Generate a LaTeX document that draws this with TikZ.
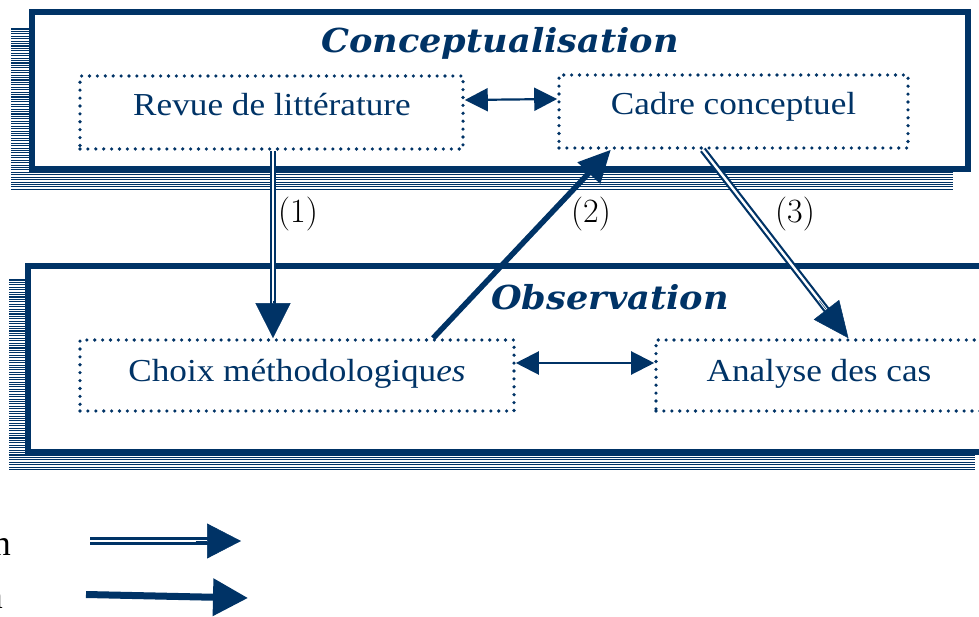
\documentclass[tikz,border=0pt]{standalone}
\usepackage{fontspec}
\newfontfamily\txtfont{Liberation Serif}[FakeStretch=1.1]
\newfontfamily\legfont{Liberation Serif}
\newfontfamily\ttlfont{DejaVu Serif}[FakeStretch=1.065]
\usetikzlibrary{arrows.meta,calc}
\definecolor{navy}{RGB}{0,51,102}
\begin{document}
\begin{tikzpicture}[x=1pt,y=-1pt,
  frame/.style={draw=navy,line width=6pt,fill=white,inner sep=0pt},
  hatch/.style={draw=navy,line width=1.1pt},
  dotbox/.style={draw=navy,line width=3.6pt,line cap=round,dash pattern=on 0pt off 7.9pt,inner sep=0pt},
  txt/.style={text=navy,inner sep=0pt,anchor=base,font=\txtfont\fontsize{32}{36}\selectfont},
  ttl/.style={text=navy,inner sep=0pt,anchor=base,font=\ttlfont\bfseries\itshape\fontsize{33}{38}\selectfont},
  lab/.style={text=black,inner sep=0pt,anchor=base,font=\fontsize{34}{38}\selectfont},
  leg/.style={text=black,inner sep=0pt,anchor=base east,font=\legfont\fontsize{36}{40}\selectfont},
  dbl/.style={draw=navy,double=white,line width=2.2pt,double distance=2.4pt},
  thk/.style={draw=navy,line width=5.5pt},
  tip/.style={draw=navy,line width=0.5pt,-{Triangle[length=#1,width=#1]}},
  biarrow/.style={draw=navy,line width=2.2pt,{Triangle[length=23pt,width=23pt]}-{Triangle[length=23pt,width=23pt]}}
]
\useasboundingbox (0,0) rectangle (979,617);

% shadows (hatching)
\foreach \i in {0,...,66} \draw[hatch] (11,29+\i*2.43) -- (953,29+\i*2.43);
\foreach \i in {0,...,78} \draw[hatch] (9,280+\i*2.43) -- (975,280+\i*2.43);

% frames
\node[frame,minimum width=936pt,minimum height=157pt] (concept) at (500,90.5) {};
\node[frame,minimum width=967pt,minimum height=186pt] (observ) at (511.5,359) {};

% titles
\node[ttl] (t1) at (500,53) {Conceptualisation};
\node[ttl] (t2) at (610,310) {Observation};

% dotted boxes
\node[dotbox,minimum width=383pt,minimum height=73pt] (revue) at (271.5,112.5) {};
\node[dotbox,minimum width=349pt,minimum height=73pt] (cadre) at (733.5,111.5) {};
\node[dotbox,minimum width=434pt,minimum height=71pt] (choix) at (297,375.5) {};
\node[dotbox,minimum width=329pt,minimum height=71pt] (analyse) at (820.5,375.5) {};

\node[txt] (revuet) at (272,116) {Revue de littérature};
\node[txt] (cadret) at (733.5,115) {Cadre conceptuel};
\node[txt] (choixt) at (297,381) {Choix méthodologiqu\textit{es}};
\node[txt] (analyset) at (819,381) {Analyse des cas};

% horizontal two-way arrows
\draw[biarrow] ([yshift=12.5pt]revue.east) -- ([yshift=12.5pt]cadre.west);
\draw[biarrow] ([yshift=12.5pt]choix.east) -- ([yshift=12.5pt]analyse.west);

% (1)
\coordinate (c1s) at ([xshift=1.5pt]revue.south);
\coordinate (c1e) at (c1s |- choix.north);
\draw[dbl,shorten >=30pt] (c1s) -- (c1e);
\draw[tip=35pt] ($(c1s)!0.8!(c1e)$) -- (c1e);

% (2)
\coordinate (c2s) at ($(choix.north west)!0.811!(choix.north east)$);
\coordinate (c2e) at ($(cadre.south west)!0.152!(cadre.south east)$);
\draw[thk,-{Triangle[length=32pt,width=30pt]}] (c2s) -- (c2e);

% (3)
\coordinate (c3s) at ($(cadre.south west)!0.413!(cadre.south east)$);
\coordinate (c3e) at ($(analyse.north west)!0.584!(analyse.north east)$);
\draw[dbl,shorten >=30pt] (c3s) -- (c3e);
\draw[draw=navy,line width=0.5pt,-{Triangle[length=36pt,width=32pt]}] ($(c3s)!0.8!(c3e)$) -- (c3e);

\node[lab] (l1) at (298,223) {(1)};
\node[lab] (l2) at (591,223) {(2)};
\node[lab] (l3) at (795,223) {(3)};

% legend
\node[leg] (g1) at (11,555) {n};
\node[leg] (g2) at (3,608) {n};
\coordinate (l1a) at (90,541);
\coordinate (l1b) at (241,541);
\draw[draw=navy,double=white,line width=2.3pt,double distance=2.7pt,shorten >=30pt] (l1a) -- (l1b);
\draw[draw=navy,line width=0.5pt,-{Triangle[length=34pt,width=35pt]}] ($(l1a)!0.7!(l1b)$) -- (l1b);
\coordinate (l2a) at (86,594.5);
\coordinate (l2b) at (248,598);
\draw[draw=navy,line width=7pt,-{Triangle[length=35pt,width=36pt]}] (l2a) -- (l2b);
\end{tikzpicture}
\end{document}
